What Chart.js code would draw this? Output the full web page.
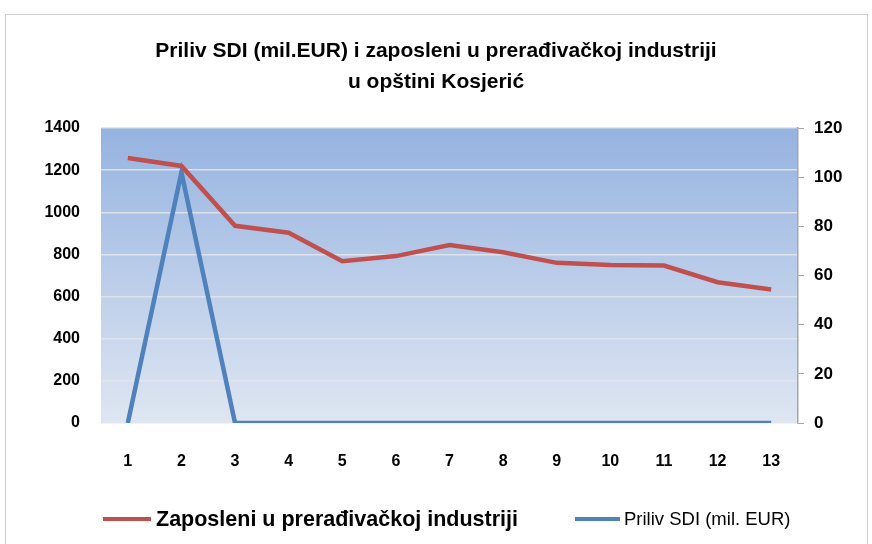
<!DOCTYPE html>
<html>
<head>
<meta charset="utf-8">
<script src="https://cdn.jsdelivr.net/npm/chart.js@4.4.1/dist/chart.umd.min.js"></script>
<style>
  body { margin: 0; background: #fff; }
  #wrap { position: relative; width: 872px; height: 544px; }
  #frame { position: absolute; left: 5px; top: 14px; width: 861px; height: 540px; border: 1px solid #d0d0d0; }
  #c { position: absolute; left: 0; top: 0; }
  .leg { position: absolute; top: 505px; height: 28px; display: flex; align-items: center;
         font-family: "Liberation Sans Narrow", "Liberation Sans", Arial, sans-serif; color: #000; white-space: nowrap; }
  .leg i { display: inline-block; height: 4px; }
</style>
</head>
<body>
<div id="wrap">
  <div id="frame"></div>
  <canvas id="c" width="872" height="544"></canvas>
  <div class="leg" style="left:103px; font-size:21.5px; font-weight:bold;"><i style="background:#c0504d; width:48px; margin-right:5px"></i>Zaposleni u prerađivačkoj industriji</div>
  <div class="leg" style="left:575px; font-size:18.5px;"><i style="background:#4f81bd; width:45px; margin-right:4px"></i>Priliv SDI (mil. EUR)</div>
</div>
<script>
const labels = ['1','2','3','4','5','6','7','8','9','10','11','12','13'];
const zaposleni = [1258, 1220, 936, 903, 768, 792, 845, 810, 760, 750, 747, 668, 634];
const prilivSDI = [0, 102, 0, 0, 0, 0, 0, 0, 0, 0, 0, 0, 0];
const titleLines = ['Priliv SDI (mil.EUR) i zaposleni u prerađivačkoj industriji', 'u opštini Kosjerić'];

const FONT = '"Liberation Sans Narrow", "Liberation Sans", Arial, sans-serif';

const bgPlugin = {
  id: 'plotBg',
  beforeDraw(chart) {
    const a = chart.chartArea, ctx = chart.ctx;
    const g = ctx.createLinearGradient(0, a.top, 0, a.bottom);
    g.addColorStop(0, '#95b3e0');
    g.addColorStop(1, '#dfe6f2');
    ctx.save();
    ctx.fillStyle = g;
    ctx.fillRect(a.left, a.top, a.right - a.left, a.bottom - a.top);
    ctx.restore();
  }
};

const ctx1 = document.getElementById('c');
new Chart(ctx1, {
  type: 'line',
  data: {
    labels: labels,
    datasets: [
      { label: 'Zaposleni u prerađivačkoj industriji', data: zaposleni, yAxisID: 'y',
        borderColor: '#c0504d', borderWidth: 4.5, pointRadius: 0, tension: 0 },
      { label: 'Priliv SDI (mil. EUR)', data: prilivSDI, yAxisID: 'y1',
        borderColor: '#4f81bd', borderWidth: 4.5, pointRadius: 0, tension: 0 }
    ]
  },
  options: {
    responsive: false,
    animation: false,
    locale: 'en-US',
    layout: { padding: { top: 0, bottom: 0, left: 0, right: 0 } },
    plugins: {
      legend: { display: false },
      tooltip: { enabled: false },
      title: {
        display: true, text: titleLines, color: '#000',
        font: { family: FONT, size: 21, weight: 'bold', lineHeight: 1.5 },
        padding: { top: 35, bottom: 30 }
      }
    },
    scales: {
      x: {
        offset: true,
        grid: { display: false, drawTicks: false },
        border: { display: false },
        ticks: { color: '#000', padding: 29, font: { family: FONT, size: 16, weight: 'bold' } },
        afterFit(s) { s.height = 121; }
      },
      y: {
        position: 'left', min: 0, max: 1400,
        ticks: { stepSize: 200, color: '#000', padding: 21, callback: v => String(v),
                 font: { family: FONT, size: 16, weight: 'bold' } },
        grid: { color: 'rgba(225,228,235,0.9)', lineWidth: 1.5, drawTicks: false },
        border: { display: false },
        afterFit(s) { s.width = 101; }
      },
      y1: {
        position: 'right', min: 0, max: 120,
        ticks: { stepSize: 20, color: '#000', padding: 10, callback: v => String(v),
                 font: { family: FONT, size: 17, weight: 'bold' } },
        grid: { drawOnChartArea: false, drawTicks: true, tickLength: 6, color: '#a6a6a6' },
        border: { display: true, color: '#a6a6a6', width: 1.5 },
        afterFit(s) { s.width = 74; }
      }
    }
  },
  plugins: [bgPlugin]
});
</script>
</body>
</html>
